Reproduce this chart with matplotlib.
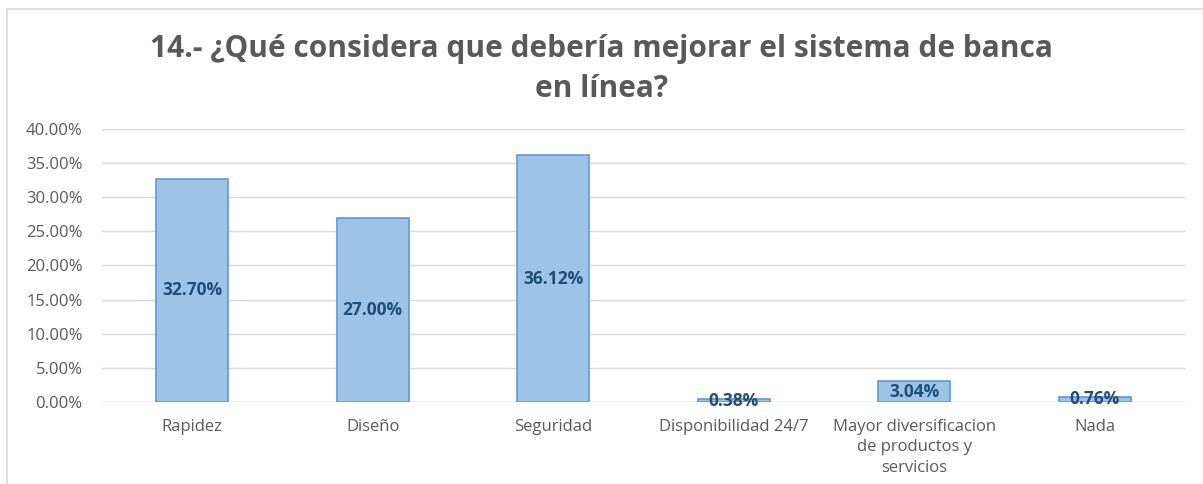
import matplotlib
matplotlib.use("Agg")
import matplotlib.pyplot as plt
from matplotlib.lines import Line2D
from matplotlib.ticker import PercentFormatter

plt.rcParams["font.family"] = ["Open Sans", "DejaVu Sans"]

categorias = ["Rapidez", "Diseño", "Seguridad", "Disponibilidad 24/7",
              "Mayor diversificacion\nde productos y\nservicios", "Nada"]
valores = [32.70, 27.00, 36.12, 0.38, 3.04, 0.76]
titulo = "14.- ¿Qué considera que debería mejorar el sistema de banca\nen línea?"

fig = plt.figure(figsize=(12.03, 4.84), dpi=100)
ax = fig.add_axes([0.0848, 0.1694, 0.9002, 0.5641])

x = range(len(categorias))
ax.bar(x, valores, width=0.4, color="#9DC3E6", edgecolor="#5B9BD5", linewidth=1.2, zorder=3)
for xi, v in zip(x, valores):
    ax.text(xi, v / 2, f"{v:.2f}%", ha="center", va="center", fontsize=12.5,
            fontweight="bold", color="#1F4E79", zorder=4)

ax.set_xlim(-0.5, len(categorias) - 0.5)
ax.set_ylim(0, 40)
ax.set_yticks(range(0, 41, 5))
ax.yaxis.set_major_formatter(PercentFormatter(decimals=2))
ax.set_xticks(list(x))
ax.set_xticklabels(categorias, linespacing=1.4)
ax.tick_params(axis="both", length=0, labelsize=12, colors="#595959")
ax.tick_params(axis="x", pad=12)
ax.tick_params(axis="y", pad=14)
ax.grid(axis="y", color="#D9D9D9", linewidth=1, zorder=0)
for s in ax.spines.values():
    s.set_visible(False)
ax.axhline(0, color="#D9D9D9", linewidth=1, zorder=2)

fig.text(0.5, 0.858, titulo, ha="center", va="center", fontsize=21.5, fontweight="bold",
         color="#595959", linespacing=1.45)

# chart frame
fig.add_artist(Line2D([7 / 1203, 1], [1 - 9 / 484, 1 - 9 / 484], color="#D9D9D9", linewidth=1.2))
fig.add_artist(Line2D([7 / 1203, 7 / 1203], [0, 1 - 9 / 484], color="#D9D9D9", linewidth=1.2))

fig.savefig("out.png", dpi=100)
